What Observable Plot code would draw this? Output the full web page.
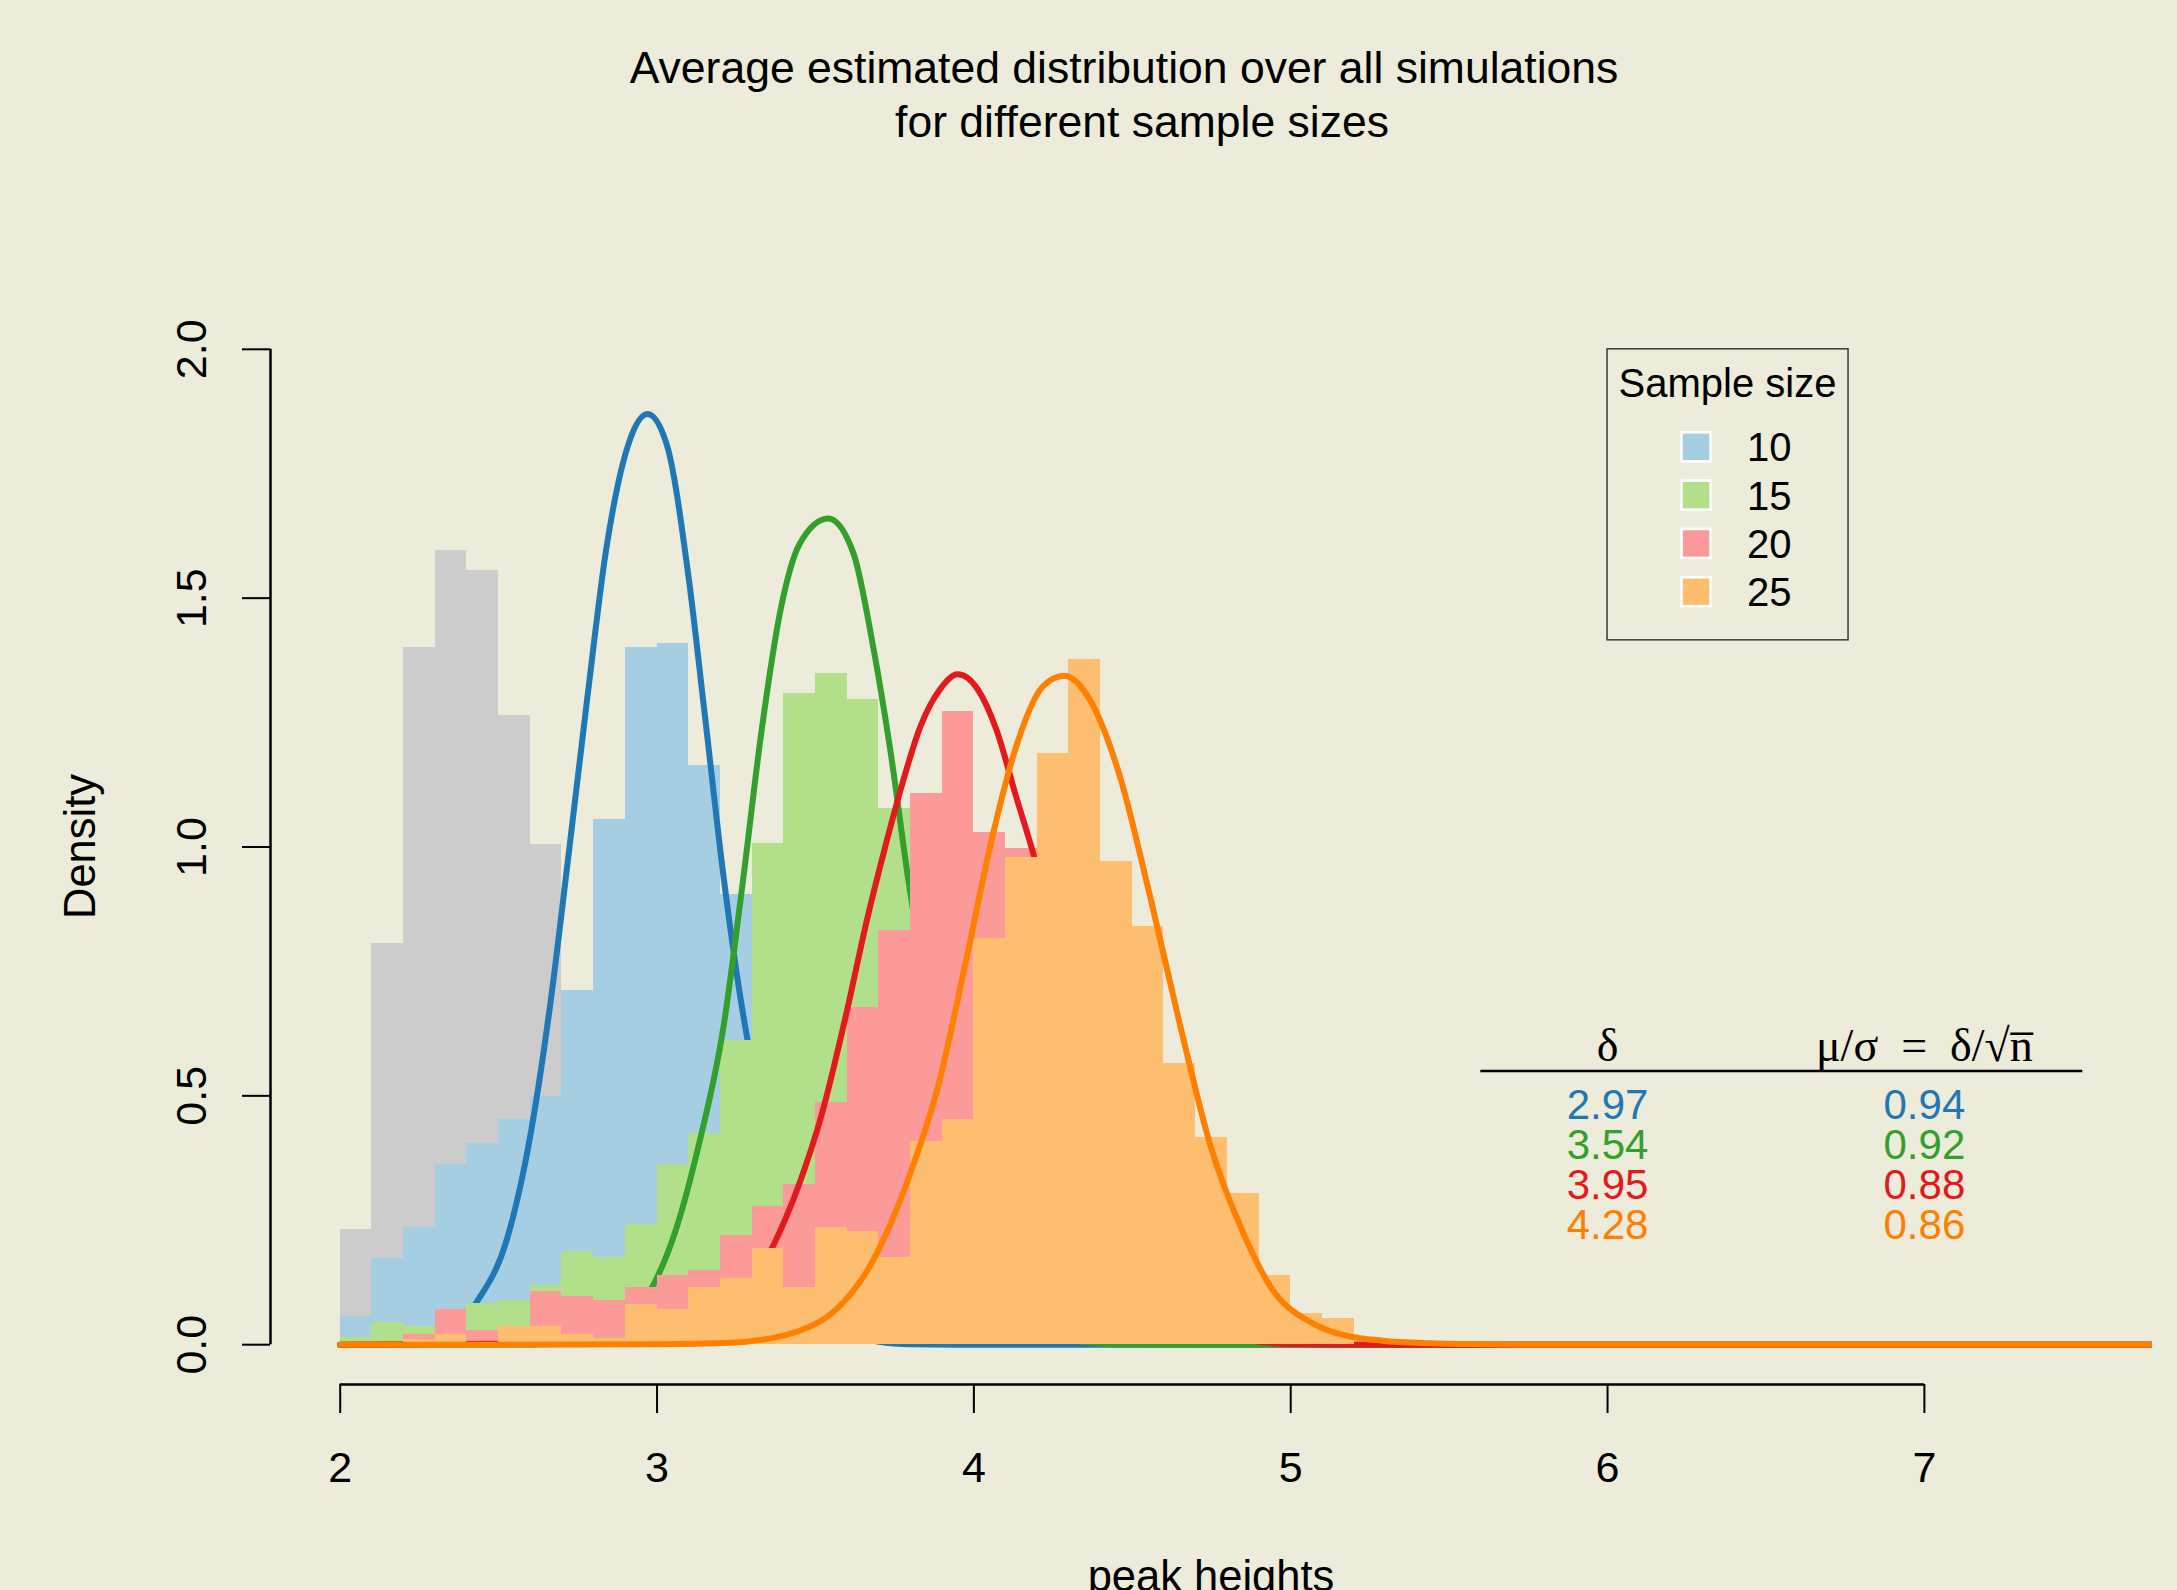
<!DOCTYPE html>
<html>
<head>
<meta charset="utf-8">
<script src="https://cdn.jsdelivr.net/npm/d3@7"></script>
<script src="https://cdn.jsdelivr.net/npm/@observablehq/plot@0.6"></script>
<style>
  html, body { margin: 0; padding: 0; background: #EDEBD9; }
  #chart { width: 2177px; height: 1590px; overflow: hidden; }
</style>
</head>
<body>
<div id="chart"></div>
<script>
// ---------------- data ----------------
const sampleSizes = [10, 15, 20, 25];
const fillColors = ["#A6CEE3", "#B2DF8A", "#FB9A99", "#FDBF6F"];
const lineColors = ["#1F78B4", "#33A02C", "#E31A1C", "#FF7F00"];
const baseFill = "#CCCCCC";

const binLeft = [2.0, 2.1, 2.2, 2.3, 2.4, 2.5, 2.6, 2.7, 2.8, 2.9,
                 3.0, 3.1, 3.2, 3.3, 3.4, 3.5, 3.6, 3.7, 3.8, 3.9,
                 4.0, 4.1, 4.2, 4.3, 4.4, 4.5, 4.6, 4.7, 4.8, 4.9,
                 5.0, 5.1];
const binWidth = 0.1;

const densBase = [0.232, 0.807, 1.400, 1.595, 1.556, 1.264, 1.006, 0.600, 0.330, 0.160,
                  0.070, 0.025, 0.010, 0, 0, 0, 0, 0, 0, 0,
                  0, 0, 0, 0, 0, 0, 0, 0, 0, 0, 0, 0];
const dens10 = [0.056, 0.173, 0.235, 0.362, 0.405, 0.452, 0.499, 0.711, 1.056, 1.400,
                1.409, 1.163, 0.904, 0.620, 0.350, 0.180, 0.080, 0.030, 0.010, 0,
                0, 0, 0, 0, 0, 0, 0, 0, 0, 0, 0, 0];
const dens15 = [0.015, 0.045, 0.037, 0.060, 0.083, 0.089, 0.119, 0.188, 0.175, 0.241,
                0.362, 0.424, 0.612, 1.008, 1.309, 1.349, 1.297, 1.077, 0.850, 0.550,
                0.300, 0.150, 0.060, 0.020, 0.005, 0, 0, 0, 0, 0, 0, 0];
const dens20 = [0.000, 0.004, 0.020, 0.071, 0.028, 0.030, 0.106, 0.097, 0.089, 0.114,
                0.140, 0.149, 0.219, 0.278, 0.321, 0.486, 0.677, 0.832, 1.107, 1.272,
                1.030, 0.996, 0.800, 0.550, 0.350, 0.200, 0.100, 0.050, 0.020, 0.008,
                0, 0];
const dens25 = [0.003, 0.003, 0.010, 0.020, 0.005, 0.037, 0.037, 0.020, 0.012, 0.080,
                0.071, 0.114, 0.133, 0.193, 0.114, 0.235, 0.228, 0.176, 0.408, 0.452,
                0.816, 0.979, 1.187, 1.376, 0.971, 0.841, 0.564, 0.417, 0.303, 0.140,
                0.062, 0.053];

// fitted density curves
const curve10X = [2.0, 2.2, 2.3, 2.43, 2.53, 2.60, 2.66, 2.72, 2.78, 2.84, 2.91, 2.97, 3.03,
                  3.10, 3.15, 3.21, 3.26, 3.30, 3.40, 3.50, 3.60, 3.70, 3.80, 4.00, 8.00];
const curve10Y = [0, 0.002, 0.013, 0.085, 0.22, 0.42, 0.67, 0.98, 1.30, 1.60, 1.81, 1.87, 1.81,
                  1.54, 1.27, 0.94, 0.71, 0.56, 0.25, 0.085, 0.024, 0.006, 0.001, 0, 0];
const curve15X = [2.0, 2.6, 2.8, 2.9, 2.98, 3.06, 3.13, 3.21, 3.27, 3.33, 3.39, 3.45, 3.54,
                  3.62, 3.68, 3.735, 3.794, 3.90, 4.00, 4.10, 4.20, 4.30, 4.40, 4.50, 4.70, 8.00];
const curve15Y = [0, 0.0005, 0.015, 0.047, 0.11, 0.232, 0.397, 0.64, 0.926, 1.234, 1.477, 1.609, 1.660,
                  1.59, 1.41, 1.20, 0.93, 0.54, 0.26, 0.11, 0.04, 0.011, 0.0025, 0.0005, 0, 0];
const curve20X = [2.0, 2.9, 3.0, 3.1, 3.2, 3.30, 3.36, 3.447, 3.52, 3.592, 3.665, 3.72, 3.771,
                  3.83, 3.891, 3.949, 4.012, 4.072, 4.133, 4.19, 4.30, 4.40, 4.50, 4.60, 4.70,
                  4.80, 4.90, 5.00, 5.20, 8.00];
const curve20Y = [0, 0.003, 0.008, 0.022, 0.055, 0.12, 0.19, 0.32, 0.463, 0.65, 0.86, 1.00, 1.12,
                  1.24, 1.315, 1.347, 1.317, 1.234, 1.102, 0.981, 0.68, 0.42, 0.24, 0.12, 0.05,
                  0.02, 0.006, 0.0015, 0, 0];
const curve25X = [2.0, 2.5, 3.0, 3.23, 3.445, 3.568, 3.613, 3.665, 3.71, 3.794, 3.891, 3.975,
                  4.06, 4.133, 4.217, 4.285, 4.362, 4.459, 4.555, 4.652, 4.748, 4.845, 4.942,
                  5.063, 5.183, 5.29, 5.44, 5.6, 5.8, 8.0];
const curve25Y = [0, 0, 0.001, 0.004, 0.027, 0.072, 0.103, 0.150, 0.205, 0.335, 0.529, 0.771,
                  1.025, 1.201, 1.322, 1.344, 1.300, 1.146, 0.904, 0.639, 0.397, 0.232, 0.111,
                  0.045, 0.017, 0.008, 0.003, 0.001, 0, 0];

const deltaLabels = ["2.97", "3.54", "3.95", "4.28"];
const ratioLabels = ["0.94", "0.92", "0.88", "0.86"];

const xTicks = [2, 3, 4, 5, 6, 7];
const yTicks = [0, 0.5, 1.0, 1.5, 2.0];
const xDomain = [1.78, 7.72];
const yDomain = [-0.08, 2.08];

// layout of the annotation table / legend (in data units, as in the original)
const tableX = [6, 7];
const tableHeaderY = 0.6;
const tableRuleY = 0.55;
const tableRuleX = [5.6, 7.5];
const tableRowY = [0.48, 0.40, 0.32, 0.24];
const legendAnchor = [6, 2];

// ---------------- build ----------------
const FONT = "'Liberation Sans', Arial, Helvetica, sans-serif";
const SERIF = "'Liberation Serif', 'Times New Roman', 'DejaVu Serif', serif";

const hist = d => binLeft.map((x0, i) => ({x0, x1: +(x0 + binWidth).toFixed(2), v: d[i]}));
const curve = (xs, ys) => xs.map((x, i) => ({x, y: ys[i]}));

const series = [
  {d: dens10, cx: curve10X, cy: curve10Y},
  {d: dens15, cx: curve15X, cy: curve15Y},
  {d: dens20, cx: curve20X, cy: curve20Y},
  {d: dens25, cx: curve25X, cy: curve25Y}
];

const marks = [
  Plot.rect(hist(densBase), {x1: "x0", x2: "x1", y1: 0, y2: "v", fill: baseFill, shapeRendering: "crispEdges"})
];
series.forEach((s, k) => {
  marks.push(Plot.rect(hist(s.d), {x1: "x0", x2: "x1", y1: 0, y2: "v", fill: fillColors[k], shapeRendering: "crispEdges"}));
  marks.push(Plot.line(curve(s.cx, s.cy), {x: "x", y: "y", stroke: lineColors[k], strokeWidth: 6,
    curve: "monotone-x", clip: true, strokeLinecap: "round", strokeLinejoin: "round"}));
});

// axes (R style)
marks.push(
  Plot.axisX({ticks: xTicks, tickSize: 29, tickPadding: 38, fontSize: 43, strokeWidth: 2,
              label: null, tickFormat: d => String(d)}),
  Plot.axisY({ticks: yTicks, tickSize: 28, tickPadding: 37, tickRotate: -90, fontSize: 43,
              strokeWidth: 2, label: null, tickFormat: d => d.toFixed(1)}),
  Plot.ruleX([xDomain[0]], {y1: yTicks[0], y2: yTicks[yTicks.length - 1], strokeWidth: 2.5}),
  Plot.ruleY([yDomain[0]], {x1: xTicks[0], x2: xTicks[xTicks.length - 1], strokeWidth: 2.5})
);

// annotation table
marks.push(
  Plot.text(["δ"], {x: () => tableX[0], y: () => tableHeaderY, text: d => d,
                    fontFamily: SERIF, fontSize: 46, fill: "black"}),
  Plot.text(["μ/σ\u2002=\u2002δ/√n\u0305"], {x: () => tableX[1], y: () => tableHeaderY, text: d => d,
                    fontFamily: SERIF, fontSize: 46, fill: "black"}),
  Plot.ruleY([tableRuleY], {x1: tableRuleX[0], x2: tableRuleX[1], strokeWidth: 2.5, stroke: "black"})
);
deltaLabels.forEach((t, i) => {
  marks.push(Plot.text([t], {x: () => tableX[0], y: () => tableRowY[i], text: d => d,
                             fill: lineColors[i], fontSize: 42}));
  marks.push(Plot.text([ratioLabels[i]], {x: () => tableX[1], y: () => tableRowY[i], text: d => d,
                             fill: lineColors[i], fontSize: 42}));
});

const plot = Plot.plot({
  width: 2177,
  height: 1590,
  marginLeft: 270,
  marginRight: 25,
  marginTop: 309,
  marginBottom: 206,
  x: {domain: xDomain},
  y: {domain: yDomain},
  style: {background: "#EDEBD9", fontFamily: FONT, fontSize: "43px", color: "black", overflow: "visible"},
  marks
});

document.getElementById("chart").appendChild(plot);

// ---------------- titles, axis labels, legend ----------------
const svg = d3.select(plot);
const sx = plot.scale("x"), sy = plot.scale("y");

const titles = svg.append("g").attr("font-family", FONT).attr("fill", "black");
titles.append("text").attr("x", 1124).attr("y", 83).attr("text-anchor", "middle")
  .attr("font-size", 44.5).text("Average estimated distribution over all simulations");
titles.append("text").attr("x", 1142).attr("y", 137).attr("text-anchor", "middle")
  .attr("font-size", 44.5).text("for different sample sizes");

const xMid = (sx.apply(xDomain[0]) + sx.apply(xDomain[1])) / 2;
const yMid = (sy.apply(yDomain[0]) + sy.apply(yDomain[1])) / 2;
titles.append("text").attr("text-anchor", "middle").attr("font-size", 43.5)
  .attr("transform", `translate(${xMid},1591)`).text("peak heights");
titles.append("text").attr("text-anchor", "middle").attr("font-size", 43.5)
  .attr("transform", `translate(95,${yMid}) rotate(-90)`).text("Density");

// legend, anchored at its top-left in data space like R's legend(x, y)
const lx = sx.apply(legendAnchor[0]), ly = sy.apply(legendAnchor[1]);
const lg = svg.append("g").attr("font-family", FONT).attr("font-size", 40).attr("fill", "black");
lg.append("rect").attr("x", lx).attr("y", ly).attr("width", 241).attr("height", 291)
  .attr("fill", "none").attr("stroke", "#444").attr("stroke-width", 1.6);
lg.append("text").attr("x", lx + 120.5).attr("y", ly + 48).attr("text-anchor", "middle").text("Sample size");
sampleSizes.forEach((n, k) => {
  const cy = ly + 98 + 48.3 * k;
  lg.append("rect").attr("x", lx + 74.5).attr("y", cy - 14.5).attr("width", 29).attr("height", 29)
    .attr("fill", fillColors[k]).attr("stroke", "white").attr("stroke-width", 2.6);
  lg.append("text").attr("x", lx + 140).attr("y", cy + 14.5).attr("text-anchor", "start").text(String(n));
});
</script>
</body>
</html>
